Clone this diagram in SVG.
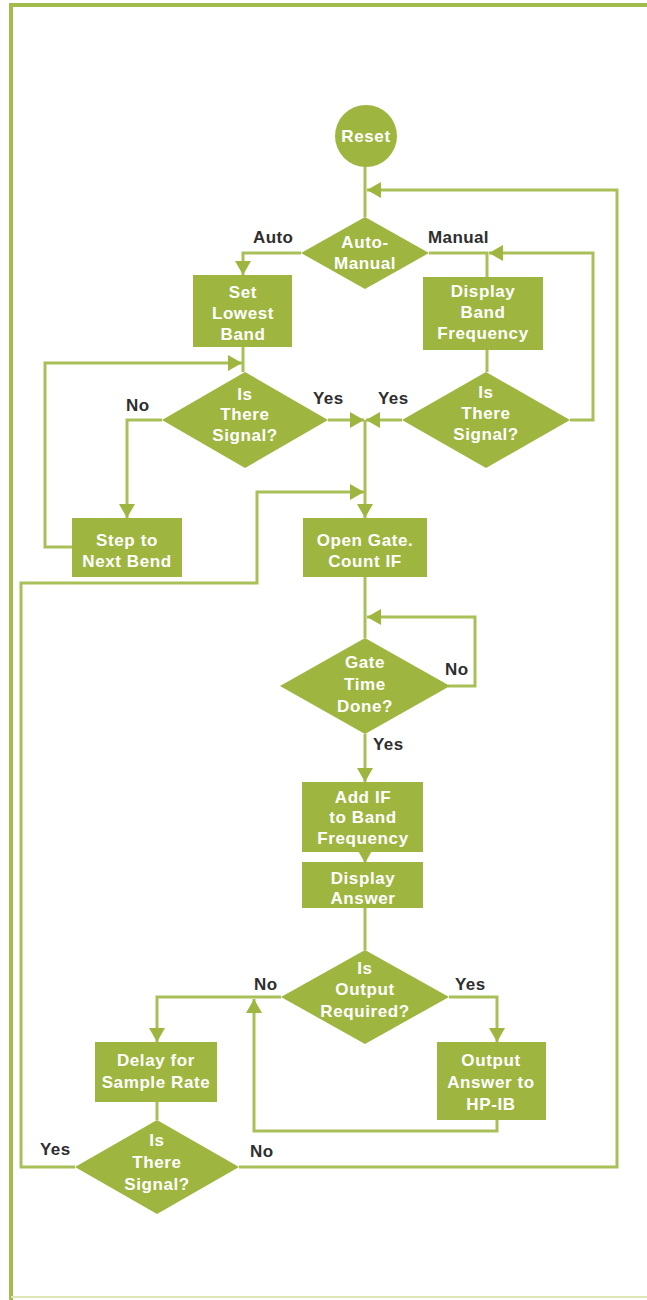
<svg xmlns="http://www.w3.org/2000/svg" width="647" height="1300" viewBox="0 0 647 1300">
<style>
.bg{fill:#ffffff}
.frame{stroke:#a3bc4c;stroke-width:4;fill:none}
.frame2{stroke:#dde7b5;stroke-width:2;fill:none}
.node{fill:#9eb63f}
.edge{stroke:#a9c058;stroke-width:3;fill:none}
.nt{font-family:"Liberation Sans",Arial,sans-serif;font-weight:bold;font-size:17px;fill:#ffffff;text-anchor:middle;letter-spacing:0.6px}
.lb{font-family:"Liberation Sans",Arial,sans-serif;font-weight:bold;font-size:17px;fill:#2e2e2e;letter-spacing:0.4px}
</style>
<defs>
<marker id="ah" markerUnits="userSpaceOnUse" markerWidth="14" markerHeight="16" refX="14" refY="8" orient="auto">
<path d="M0,0 L14,8 L0,16 z" fill="#9eb63f"/>
</marker>
</defs>
<rect class="bg" x="0" y="0" width="647" height="1300"/>
<g id="frame">
<line class="frame" x1="9" y1="5" x2="647" y2="5"/>
<line class="frame" x1="11" y1="3" x2="11" y2="1300"/>
<line class="frame2" x1="11" y1="1297" x2="647" y2="1297"/>
</g>
<g id="connectors">
<path class="edge" d="M365,166 V217"/>
<path class="edge" d="M239,1167 H617 V190 H367" marker-end="url(#ah)"/>
<path class="edge" d="M301,253 H243 V275" marker-end="url(#ah)"/>
<path class="edge" d="M429,253 H487 V277"/>
<path class="edge" d="M570,420 H593 V253 H489" marker-end="url(#ah)"/>
<path class="edge" d="M243,347 V372"/>
<path class="edge" d="M72,547 H45 V363 H242" marker-end="url(#ah)"/>
<path class="edge" d="M162,420 H127 V518" marker-end="url(#ah)"/>
<path class="edge" d="M328,420 H364" marker-end="url(#ah)"/>
<path class="edge" d="M402,420 H366" marker-end="url(#ah)"/>
<path class="edge" d="M487,350 V372"/>
<path class="edge" d="M365,420 V518" marker-end="url(#ah)"/>
<path class="edge" d="M75,1167 H21 V583 H257 V492 H364" marker-end="url(#ah)"/>
<path class="edge" d="M365,577 V638"/>
<path class="edge" d="M448,686 H475 V617 H367" marker-end="url(#ah)"/>
<path class="edge" d="M365,734 V782" marker-end="url(#ah)"/>
<path class="edge" d="M365,852 V863" marker-end="url(#ah)"/>
<path class="edge" d="M365,908 V950"/>
<path class="edge" d="M281,997 H157 V1042" marker-end="url(#ah)"/>
<path class="edge" d="M449,997 H497 V1042" marker-end="url(#ah)"/>
<path class="edge" d="M497,1120 V1131 H254 V999" marker-end="url(#ah)"/>
<path class="edge" d="M157,1102 V1120"/>
</g>
<g id="n-reset">
<circle class="node" cx="366" cy="136" r="31"/>
<text class="nt" x="366" y="142">Reset</text>
</g>
<g id="n-automanual">
<polygon class="node" points="365,217 429,253 365,289 301,253"/>
<text class="nt" x="365" y="248">Auto-</text>
<text class="nt" x="365" y="269">Manual</text>
</g>
<g id="n-setlowest">
<rect class="node" x="193" y="275" width="99" height="72"/>
<text class="nt" x="243" y="298">Set</text>
<text class="nt" x="243" y="319">Lowest</text>
<text class="nt" x="243" y="340">Band</text>
</g>
<g id="n-displayband">
<rect class="node" x="423" y="277" width="120" height="73"/>
<text class="nt" x="483" y="297">Display</text>
<text class="nt" x="483" y="318">Band</text>
<text class="nt" x="483" y="339">Frequency</text>
</g>
<g id="n-signal1">
<polygon class="node" points="245,372 328,420 245,468 162,420"/>
<text class="nt" x="245" y="400">Is</text>
<text class="nt" x="245" y="420">There</text>
<text class="nt" x="245" y="441">Signal?</text>
</g>
<g id="n-signal2">
<polygon class="node" points="486,372 570,420 486,468 402,420"/>
<text class="nt" x="486" y="398">Is</text>
<text class="nt" x="486" y="419">There</text>
<text class="nt" x="486" y="440">Signal?</text>
</g>
<g id="n-step">
<rect class="node" x="72" y="518" width="110" height="59"/>
<text class="nt" x="127" y="546">Step to</text>
<text class="nt" x="127" y="567">Next Bend</text>
</g>
<g id="n-opengate">
<rect class="node" x="303" y="518" width="124" height="59"/>
<text class="nt" x="365" y="546">Open Gate.</text>
<text class="nt" x="365" y="567">Count IF</text>
</g>
<g id="n-gatetime">
<polygon class="node" points="365,638 450,686 365,734 280,686"/>
<text class="nt" x="365" y="668">Gate</text>
<text class="nt" x="365" y="690">Time</text>
<text class="nt" x="365" y="712">Done?</text>
</g>
<g id="n-addif">
<rect class="node" x="302" y="782" width="121" height="70"/>
<text class="nt" x="363" y="803">Add IF</text>
<text class="nt" x="363" y="823">to Band</text>
<text class="nt" x="363" y="844">Frequency</text>
</g>
<g id="n-displayanswer">
<rect class="node" x="302" y="862" width="121" height="46"/>
<text class="nt" x="363" y="884">Display</text>
<text class="nt" x="363" y="904">Answer</text>
</g>
<g id="n-outputreq">
<polygon class="node" points="365,950 449,997 365,1044 281,997"/>
<text class="nt" x="365" y="974">Is</text>
<text class="nt" x="365" y="995">Output</text>
<text class="nt" x="365" y="1017">Required?</text>
</g>
<g id="n-delay">
<rect class="node" x="95" y="1042" width="122" height="60"/>
<text class="nt" x="156" y="1066">Delay for</text>
<text class="nt" x="156" y="1088">Sample Rate</text>
</g>
<g id="n-output">
<rect class="node" x="437" y="1042" width="109" height="78"/>
<text class="nt" x="491" y="1066">Output</text>
<text class="nt" x="491" y="1088">Answer to</text>
<text class="nt" x="491" y="1110">HP-IB</text>
</g>
<g id="n-signal3">
<polygon class="node" points="157,1120 239,1167 157,1214 75,1167"/>
<text class="nt" x="157" y="1146">Is</text>
<text class="nt" x="157" y="1168">There</text>
<text class="nt" x="157" y="1190">Signal?</text>
</g>
<g id="labels">
<text class="lb" x="253" y="243">Auto</text>
<text class="lb" x="428" y="243">Manual</text>
<text class="lb" x="126" y="411">No</text>
<text class="lb" x="313" y="404">Yes</text>
<text class="lb" x="378" y="404">Yes</text>
<text class="lb" x="445" y="675">No</text>
<text class="lb" x="373" y="750">Yes</text>
<text class="lb" x="254" y="990">No</text>
<text class="lb" x="455" y="990">Yes</text>
<text class="lb" x="40" y="1155">Yes</text>
<text class="lb" x="250" y="1157">No</text>
</g>
</svg>
